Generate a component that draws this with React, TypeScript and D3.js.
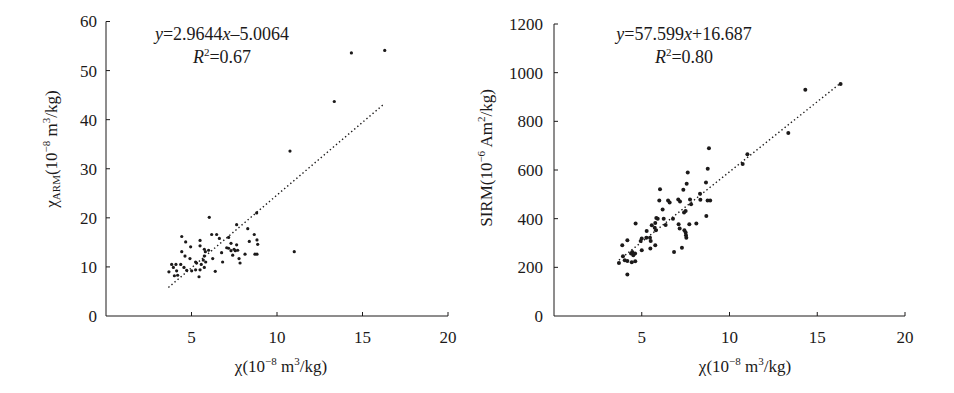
import React from "react";
import * as d3 from "d3";

// ---------- data ----------
const xTicks = [5, 10, 15, 20];
const leftYTicks = [0, 10, 20, 30, 40, 50, 60];
const rightYTicks = [0, 200, 400, 600, 800, 1000, 1200];

// chi vs chi_ARM
const armX = [
  6.04, 4.43, 4.66, 4.95, 5.5, 5.5, 6.18, 6.47, 6.63, 7.17, 7.64, 8.29, 8.67, 8.38, 8.83, 8.87,
  8.71, 8.83, 8.13, 4.43, 4.62, 4.91, 5.24, 5.3, 5.75, 5.81, 6.0, 5.75, 5.69, 5.83, 5.57, 5.75,
  5.5, 5.24, 5.44, 6.24, 6.39, 6.76, 6.82, 7.06, 7.17, 7.31, 7.49, 7.56, 7.41, 7.7, 7.78, 7.84,
  7.64, 7.31, 3.84, 4.09, 3.94, 4.37, 3.68, 4.13, 4.0, 4.19, 4.56, 4.72, 5.01, 14.35, 16.3, 13.35,
  10.76, 11.01, 8.81,
];
const armY = [
  20.1, 16.2, 15.1, 14.1, 15.4, 14.3, 16.6, 16.6, 15.8, 16.0, 18.6, 17.8, 16.6, 15.2, 15.5, 14.6,
  12.6, 12.6, 12.6, 13.1, 12.2, 11.7, 11.0, 10.8, 13.6, 13.1, 13.4, 12.2, 11.4, 11.0, 10.5, 9.9,
  9.4, 9.4, 8.0, 11.7, 9.1, 12.9, 11.0, 13.9, 13.8, 13.3, 13.6, 13.3, 12.4, 13.4, 11.7, 10.8,
  14.5, 14.8, 10.5, 10.5, 9.9, 10.5, 9.0, 9.2, 8.2, 8.3, 9.9, 9.3, 9.2, 53.6, 54.1, 43.7,
  33.6, 13.1, 21.0,
];

// chi vs SIRM
const sirmX = [
  16.33, 14.32, 13.35, 11.02, 10.75, 8.83, 8.76, 8.66, 8.75, 8.9, 8.68, 8.34, 8.32, 8.11, 7.62, 7.56,
  7.37, 7.75, 7.81, 7.5, 7.41, 7.08, 7.18, 7.1, 7.16, 7.43, 7.5, 7.52, 7.54, 7.71, 7.29, 6.84,
  6.78, 6.5, 6.59, 6.04, 6.0, 6.19, 6.25, 6.36, 5.83, 5.91, 5.77, 5.74, 5.81, 5.57, 5.77, 5.47,
  5.51, 5.49, 5.28, 5.26, 5.0, 4.94, 5.0, 4.65, 4.62, 4.46, 4.52, 4.39, 4.43, 4.63, 4.18, 3.89,
  3.93, 4.03, 4.18, 3.7, 4.18,
];
const sirmY = [
  953, 930, 752, 665, 625, 689, 605, 549, 475, 475, 411, 478, 502, 380, 590, 543,
  519, 479, 459, 431, 425, 479, 471, 377, 360, 352, 343, 332, 322, 377, 280, 263,
  400, 475, 466, 521, 475, 438, 400, 374, 403, 400, 382, 363, 352, 373, 291, 322,
  308, 277, 349, 322, 318, 308, 270, 380, 257, 263, 250, 257, 221, 225, 311, 291,
  246, 229, 226, 218, 171,
];

const armFit = { slope: 2.9644, intercept: -5.0064, from: 3.65, to: 16.25 };
const sirmFit = { slope: 57.599, intercept: 16.687, from: 3.7, to: 16.3 };

const FONT = "'Liberation Serif', 'Times New Roman', serif";
const INK = "#1c1a1a";

type PanelProps = {
  xs: number[];
  ys: number[];
  yTicks: number[];
  yMax: number;
  fit: { slope: number; intercept: number; from: number; to: number };
  x0: number;
  x1: number;
  yTop: number;
  yBottom: number;
  r: number;
  labelGap: number;
};

function Panel(p: PanelProps) {
  const x = d3.scaleLinear().domain([0, 20]).range([p.x0, p.x1]);
  const y = d3.scaleLinear().domain([0, p.yMax]).range([p.yBottom, p.yTop]);
  const line = d3
    .line<number>()
    .x((d) => x(d))
    .y((d) => y(p.fit.slope * d + p.fit.intercept));
  return (
    <g>
      {/* axes */}
      <line x1={x(0)} x2={x(0)} y1={y(p.yMax)} y2={y(0)} stroke={INK} strokeWidth={1} />
      <line x1={x(0)} x2={x(20)} y1={y(0)} y2={y(0)} stroke={INK} strokeWidth={1} />
      {p.yTicks.map((t) => (
        <g key={"y" + t}>
          {t > 0 && <line x1={x(0)} x2={x(0) + 4} y1={y(t)} y2={y(t)} stroke={INK} strokeWidth={1} />}
          <text
            x={x(0) - p.labelGap}
            y={y(t)}
            dy="0.35em"
            textAnchor="end"
            fontFamily={FONT}
            fontSize={17}
            fill={INK}
          >
            {t}
          </text>
        </g>
      ))}
      {xTicks.map((t) => (
        <g key={"x" + t}>
          <line x1={x(t)} x2={x(t)} y1={y(0)} y2={y(0) - 4} stroke={INK} strokeWidth={1} />
          <text x={x(t)} y={y(0) + 27} textAnchor="middle" fontFamily={FONT} fontSize={17} fill={INK}>
            {t}
          </text>
        </g>
      ))}
      {/* trend line */}
      <path
        d={line([p.fit.from, p.fit.to]) || ""}
        fill="none"
        stroke={INK}
        strokeWidth={1.4}
        strokeDasharray="1.4 2.6"
      />
      {/* points */}
      {p.xs.map((v, i) => (
        <circle key={i} cx={x(v)} cy={y(p.ys[i])} r={p.r} fill={INK} />
      ))}
    </g>
  );
}

function XLabel({ cx, y }: { cx: number; y: number }) {
  return (
    <text x={cx} y={y} textAnchor="middle" fontFamily={FONT} fontSize={17} fill={INK}>
      χ(10
      <tspan fontSize={11} dy={-7}>−8</tspan>
      <tspan dy={7}> m</tspan>
      <tspan fontSize={11} dy={-7}>3</tspan>
      <tspan dy={7}>/kg)</tspan>
    </text>
  );
}

export default function App() {
  return (
    <svg
      width={954}
      height={393}
      style={{ position: "absolute", left: 0, top: 0, background: "#fff" }}
    >
      <rect width={954} height={393} fill="#fff" />
      <Panel
        xs={armX}
        ys={armY}
        yTicks={leftYTicks}
        yMax={60}
        fit={armFit}
        x0={106}
        x1={448}
        yTop={21.5}
        yBottom={316}
        r={1.6}
        labelGap={9}
      />
      <Panel
        xs={sirmX}
        ys={sirmY}
        yTicks={rightYTicks}
        yMax={1200}
        fit={sirmFit}
        x0={554}
        x1={905}
        yTop={24}
        yBottom={316}
        r={2}
        labelGap={11}
      />

      {/* equations */}
      <text x={222} y={40} textAnchor="middle" fontFamily={FONT} fontSize={18} fill={INK}>
        <tspan fontStyle="italic">y</tspan>=2.9644<tspan fontStyle="italic">x</tspan>–5.0064
      </text>
      <text x={222} y={63} textAnchor="middle" fontFamily={FONT} fontSize={18} fill={INK}>
        <tspan fontStyle="italic">R</tspan>
        <tspan fontSize={11} dy={-7}>2</tspan>
        <tspan dy={7}>=0.67</tspan>
      </text>
      <text x={684} y={40} textAnchor="middle" fontFamily={FONT} fontSize={18} fill={INK}>
        <tspan fontStyle="italic">y</tspan>=57.599<tspan fontStyle="italic">x</tspan>+16.687
      </text>
      <text x={684} y={63} textAnchor="middle" fontFamily={FONT} fontSize={18} fill={INK}>
        <tspan fontStyle="italic">R</tspan>
        <tspan fontSize={11} dy={-7}>2</tspan>
        <tspan dy={7}>=0.80</tspan>
      </text>

      {/* axis titles */}
      <XLabel cx={281} y={372} />
      <XLabel cx={745} y={372} />
      <text
        transform="translate(57,149) rotate(-90)"
        textAnchor="middle"
        fontFamily={FONT}
        fontSize={17}
        fill={INK}
      >
        χ
        <tspan fontSize={11} dy={3}>ARM</tspan>
        <tspan dy={-3}>(10</tspan>
        <tspan fontSize={11} dy={-7}>−8</tspan>
        <tspan dy={7}> m</tspan>
        <tspan fontSize={11} dy={-7}>3</tspan>
        <tspan dy={7}>/kg)</tspan>
      </text>
      <text
        transform="translate(492,158) rotate(-90)"
        textAnchor="middle"
        fontFamily={FONT}
        fontSize={17}
        fill={INK}
      >
        SIRM(10
        <tspan fontSize={11} dy={-7}>−6</tspan>
        <tspan dy={7}> Am</tspan>
        <tspan fontSize={11} dy={-7}>2</tspan>
        <tspan dy={7}>/kg)</tspan>
      </text>
    </svg>
  );
}
